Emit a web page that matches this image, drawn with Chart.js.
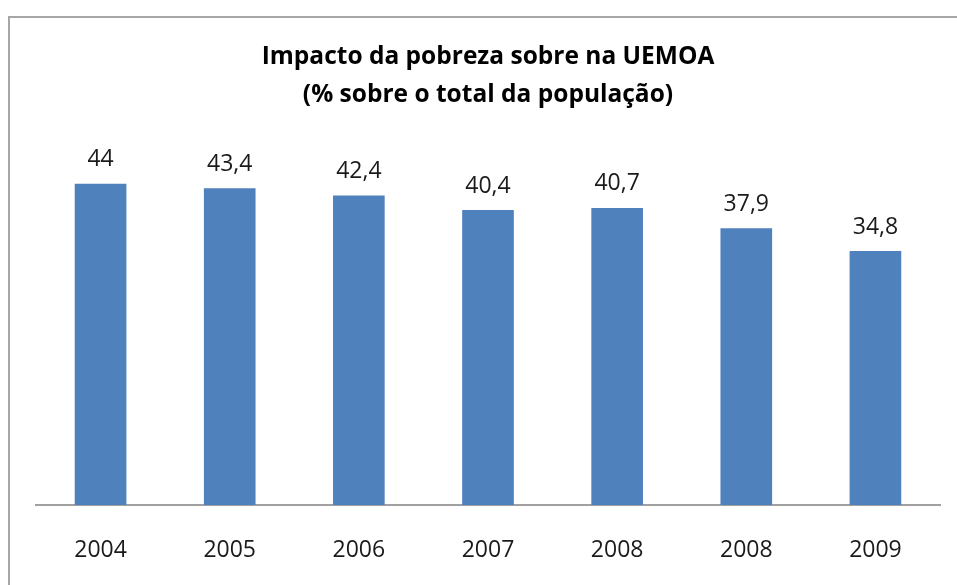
<!DOCTYPE html>
<html>
<head>
<meta charset="utf-8">
<script src="https://cdn.jsdelivr.net/npm/chart.js@4/dist/chart.umd.min.js"></script>
<style>
  html, body { margin: 0; padding: 0; background: #fff; overflow: hidden; }
  canvas { display: block; }
</style>
</head>
<body>
<canvas id="chart" width="957" height="585"></canvas>
<script>
const years = ['2004', '2005', '2006', '2007', '2008', '2008', '2009'];
const poverty = [44, 43.4, 42.4, 40.4, 40.7, 37.9, 34.8];
const titleLines = ['Impacto da pobreza sobre na UEMOA', '(% sobre o total da população)'];

const fontName = '"Open Sans", sans-serif';

// outer frame of the chart (only left and top edges are inside the picture)
const frame = {
  id: 'frame',
  beforeDraw(chart) {
    const ctx = chart.ctx;
    ctx.save();
    ctx.strokeStyle = '#a6a6a6';
    ctx.lineWidth = 2;
    ctx.beginPath();
    ctx.moveTo(9, chart.height + 5);
    ctx.lineTo(9, 17);
    ctx.lineTo(chart.width + 5, 17);
    ctx.stroke();
    ctx.restore();
  }
};

// draws the title and the value above each bar
const extras = {
  id: 'extras',
  afterDatasetsDraw(chart) {
    const ctx = chart.ctx;
    const area = chart.chartArea;
    ctx.save();
    ctx.fillStyle = '#000';
    ctx.textAlign = 'center';
    ctx.textBaseline = 'middle';
    ctx.font = 'bold 24.5px ' + fontName;
    const cx = (area.left + area.right) / 2;
    ctx.fillText(titleLines[0], cx, 57);
    ctx.fillText(titleLines[1], cx, 95);

    ctx.fillStyle = '#1a1a1a';
    ctx.font = '23px ' + fontName;
    const meta = chart.getDatasetMeta(0);
    meta.data.forEach((bar, i) => {
      ctx.fillText(String(poverty[i]).replace('.', ','), bar.x, bar.y - 24);
    });
    ctx.restore();
  }
};

const data = {
  labels: years,
  datasets: [{
    data: poverty,
    backgroundColor: '#4f81bd',
    borderWidth: 0,
    barPercentage: 0.4,
    categoryPercentage: 1
  }]
};

const config = {
  type: 'bar',
  data: data,
  plugins: [frame, extras],
  options: {
    responsive: false,
    animation: false,
    layout: { padding: { left: 36, right: 17, top: 140, bottom: 0 } },
    plugins: {
      legend: { display: false },
      title: { display: false },
      tooltip: { enabled: false }
    },
    scales: {
      x: {
        grid: { display: false, drawTicks: false },
        border: { display: true, color: '#a0a0a0', width: 2 },
        ticks: { color: '#1a1a1a', padding: 32, font: { family: fontName, size: 23 } },
        afterFit(scale) { scale.height = 80; }
      },
      y: {
        display: false,
        min: 0,
        max: 50
      }
    }
  }
};

const myChart = new Chart(document.getElementById('chart'), config);
</script>
</body>
</html>
